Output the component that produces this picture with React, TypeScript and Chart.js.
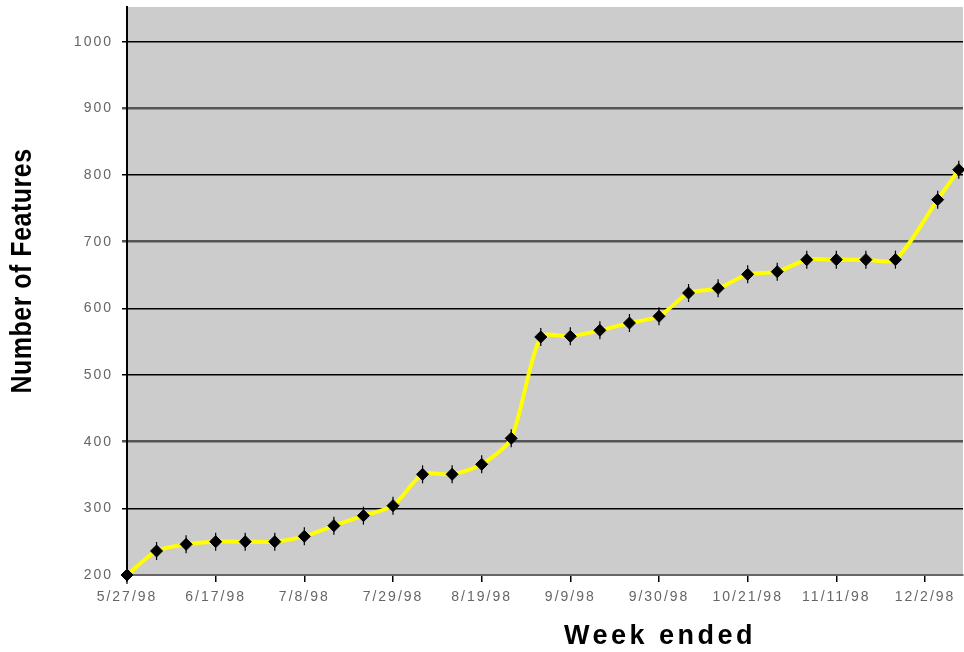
import { useEffect, useRef } from 'react';
import { Chart, registerables } from 'chart.js';

Chart.register(...registerables);

// ---- data ----
const weekEnded = [
  '5/27/98', '6/3/98', '6/10/98', '6/17/98', '6/24/98', '7/1/98', '7/8/98',
  '7/15/98', '7/22/98', '7/29/98', '8/5/98', '8/12/98', '8/19/98', '8/26/98',
  '9/2/98', '9/9/98', '9/16/98', '9/23/98', '9/30/98', '10/7/98', '10/14/98',
  '10/21/98', '10/28/98', '11/4/98', '11/11/98', '11/18/98', '11/25/98',
  '12/5/98', '12/10/98',
];
const featureCounts = [
  200, 236, 246, 250, 250, 250, 258,
  274, 289, 304, 351, 351, 366, 405,
  557, 558, 567, 578, 588, 623, 630,
  651, 655, 673, 673, 673, 673,
  763, 808,
];
const xTickLabels = [
  '5/27/98', '6/17/98', '7/8/98', '7/29/98', '8/19/98',
  '9/9/98', '9/30/98', '10/21/98', '11/11/98', '12/2/98',
];
const yTickValues = [200, 300, 400, 500, 600, 700, 800, 900, 1000];
const yTitle = 'Number of Features';
const xTitle = 'Week ended';
const xMaxDay = 198;
const yMin = 200;
const yMax = 1052;

const toDay = (s: string) => {
  const [m, d, y] = s.split('/').map(Number);
  return Math.round((Date.UTC(1900 + y, m - 1, d) - Date.UTC(1998, 4, 27)) / 86400000);
};

const FONT = '"Liberation Sans", Arial, sans-serif';

const zeroPadding = (axis: any) => {
  axis.paddingLeft = 0;
  axis.paddingRight = 0;
  axis.paddingTop = 0;
  axis.paddingBottom = 0;
};

export default function App() {
  const canvasRef = useRef<HTMLCanvasElement | null>(null);

  useEffect(() => {
    if (!canvasRef.current) return;
    const points = weekEnded.map((d, i) => ({ x: toDay(d), y: featureCounts[i] }));
    const xTickDays = xTickLabels.map(toDay);

    const spacingPlugin = {
      id: 'spacing',
      beforeLayout(chart: any) {
        chart.ctx.letterSpacing = '2px';
      },
      beforeDraw(chart: any) {
        const { ctx, chartArea } = chart;
        ctx.save();
        ctx.fillStyle = '#CCCCCC';
        ctx.fillRect(chartArea.left, chartArea.top, chartArea.right - chartArea.left, chartArea.bottom - chartArea.top);
        ctx.restore();
        ctx.letterSpacing = '2px';
      },
    };

    const titlePlugin = {
      id: 'titles',
      afterDraw(chart: any) {
        const ctx = chart.ctx;
        ctx.save();
        ctx.fillStyle = '#000';
        ctx.textAlign = 'center';
        ctx.textBaseline = 'middle';
        ctx.letterSpacing = '0.5px';
        ctx.font = `bold 25px ${FONT}`;
        ctx.translate(23, 271);
        ctx.rotate(-Math.PI / 2);
        ctx.scale(1, 1.15);
        ctx.fillText(yTitle, 0, 0);
        ctx.restore();

        ctx.save();
        ctx.fillStyle = '#000';
        ctx.textAlign = 'center';
        ctx.textBaseline = 'middle';
        ctx.letterSpacing = '3.5px';
        ctx.font = `bold 27px ${FONT}`;
        ctx.fillText(xTitle, 660, 637);
        ctx.restore();
      },
    };

    const darkGrey = new Set([900, 700, 400]);

    const chart = new Chart(canvasRef.current, {
      type: 'line',
      data: {
        datasets: [
          {
            data: points,
            showLine: false,
            pointStyle: 'line',
            rotation: 90,
            pointRadius: 9,
            pointBorderColor: '#000',
            pointBorderWidth: 1.2,
            clip: false,
          } as any,
          {
            data: points,
            borderColor: '#FFFF00',
            borderWidth: 4,
            tension: 0.25,
            pointStyle: 'rectRot',
            pointRadius: 6,
            pointBackgroundColor: '#000',
            pointBorderColor: '#000',
            pointBorderWidth: 1,
            clip: false,
          } as any,
        ],
      },
      options: {
        animation: false,
        responsive: false,
        layout: { autoPadding: false, padding: { top: 7, right: 1, left: 0, bottom: 0 } },
        plugins: { legend: { display: false }, tooltip: { enabled: false } },
        scales: {
          x: {
            type: 'linear',
            min: 0,
            max: xMaxDay,
            afterFit: (axis: any) => { axis.height = 77; zeroPadding(axis); },
            afterBuildTicks: (axis: any) => { axis.ticks = xTickDays.map((v) => ({ value: v })); },
            ticks: {
              autoSkip: false,
              maxRotation: 0,
              padding: 7,
              color: '#666',
              font: { size: 14, family: FONT },
              callback: (v: any) => {
                const i = xTickDays.indexOf(Number(v));
                return i >= 0 ? xTickLabels[i] : '';
              },
            },
            grid: {
              drawOnChartArea: false,
              drawTicks: true,
              tickLength: 7,
              color: '#000',
              lineWidth: 1.5,
            },
            border: { display: true, color: '#666', width: 2 },
            title: { display: false },
          },
          y: {
            type: 'linear',
            min: yMin,
            max: yMax,
            afterFit: (axis: any) => { axis.width = 127; zeroPadding(axis); },
            afterBuildTicks: (axis: any) => { axis.ticks = yTickValues.map((v) => ({ value: v })); },
            ticks: {
              padding: 9,
              color: '#666',
              font: { size: 14, family: FONT },
              callback: (v: any) => String(v),
            },
            grid: {
              drawTicks: true,
              tickLength: 5,
              color: (c: any) => (c.tick && darkGrey.has(c.tick.value) ? '#555' : (c.tick && c.tick.value === 200 ? '#666' : '#000')),
              lineWidth: (c: any) => (c.tick && darkGrey.has(c.tick.value) ? 2.5 : 1.5),
            },
            border: { display: true, color: '#000', width: 2 },
            title: { display: false },
          },
        },
      },
      plugins: [spacingPlugin, titlePlugin],
    } as any);

    return () => chart.destroy();
  }, []);

  return (
    <div style={{ position: 'absolute', left: 0, top: 0, width: 964, height: 652, background: '#fff' }}>
      <canvas ref={canvasRef} width={964} height={652} style={{ width: 964, height: 652, display: 'block' }} />
    </div>
  );
}
